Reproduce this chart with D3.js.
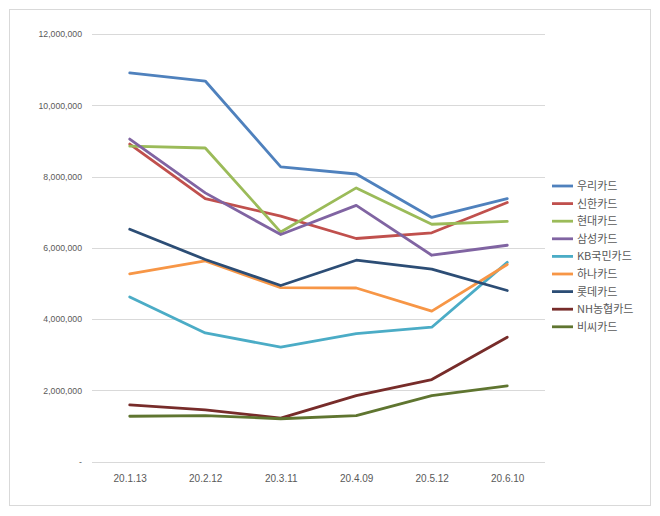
<!DOCTYPE html>
<html>
<head>
<meta charset="utf-8">
<script src="https://cdn.jsdelivr.net/npm/d3@7"></script>
<style>
  html, body { margin: 0; padding: 0; background: #fff; }
  svg { display: block; }
</style>
</head>
<body>
<svg id="chart" width="660" height="516"></svg>
<script>
const categories = ["20.1.13", "20.2.12", "20.3.11", "20.4.09", "20.5.12", "20.6.10"];
const seriesNames = ["우리카드", "신한카드", "현대카드", "삼성카드", "KB국민카드", "하나카드", "롯데카드", "NH농협카드", "비씨카드"];
const woori   = [10910000, 10680000, 8270000, 8070000, 6850000, 7380000];
const shinhan = [8910000, 7380000, 6890000, 6260000, 6420000, 7270000];
const hyundai = [8850000, 8800000, 6440000, 7680000, 6660000, 6740000];
const samsung = [9050000, 7540000, 6370000, 7190000, 5790000, 6070000];
const kb      = [4620000, 3610000, 3210000, 3590000, 3770000, 5590000];
const hana    = [5270000, 5630000, 4880000, 4870000, 4220000, 5530000];
const lotte   = [6520000, 5670000, 4940000, 5650000, 5400000, 4800000];
const nh      = [1590000, 1450000, 1220000, 1850000, 2300000, 3490000];
const bc      = [1270000, 1290000, 1200000, 1290000, 1850000, 2120000];
const yTicks  = [0, 2000000, 4000000, 6000000, 8000000, 10000000, 12000000];
const colors  = ["#4F81BD", "#C0504D", "#9BBB59", "#8064A2", "#4BACC6", "#F79646", "#2C4D75", "#772C2A", "#5F7530"];

const seriesValues = [woori, shinhan, hyundai, samsung, kb, hana, lotte, nh, bc];
const series = seriesNames.map((name, i) => ({ name, values: seriesValues[i], color: colors[i] }));

const svg = d3.select("#chart");

// outer border
svg.append("rect")
  .attr("x", 9.5).attr("y", 9.5)
  .attr("width", 641).attr("height", 496)
  .attr("fill", "#fff").attr("stroke", "#d9d9d9").attr("stroke-width", 1);

const plot = { left: 92, right: 545, top: 34, bottom: 461.5 };

const x = d3.scalePoint().domain(categories).range([plot.left, plot.right]).padding(0.5);
const y = d3.scaleLinear().domain([0, 12000000]).range([plot.bottom, plot.top]);

// gridlines
svg.append("g")
  .selectAll("line").data(yTicks).join("line")
  .attr("x1", plot.left).attr("x2", plot.right)
  .attr("y1", d => Math.round(y(d)) + 0.5).attr("y2", d => Math.round(y(d)) + 0.5)
  .attr("stroke", "#d9d9d9").attr("stroke-width", 1);

// y axis
const fmt = d3.format(",");
const yAxis = d3.axisLeft(y).tickValues(yTicks).tickSize(0).tickPadding(10)
  .tickFormat(d => d === 0 ? "-" : fmt(d));
const yg = svg.append("g").attr("transform", `translate(${plot.left},0)`).call(yAxis);
yg.select(".domain").remove();
yg.selectAll("text")
  .attr("fill", "#595959")
  .style("font-family", "'Liberation Sans', Arial, sans-serif")
  .style("font-size", "8.7px");

// x axis
const xAxis = d3.axisBottom(x).tickSize(0).tickPadding(13);
const xg = svg.append("g").attr("transform", `translate(0,${plot.bottom})`).call(xAxis);
xg.select(".domain").remove();
xg.selectAll("text")
  .attr("fill", "#595959")
  .style("font-family", "'Liberation Sans', Arial, sans-serif")
  .style("font-size", "10px");

// lines
const line = d3.line()
  .x((d, i) => x(categories[i]))
  .y(d => y(d));

svg.append("g")
  .selectAll("path").data(series).join("path")
  .attr("d", d => line(d.values))
  .attr("fill", "none")
  .attr("stroke", d => d.color)
  .attr("stroke-width", 2.8)
  .attr("stroke-linejoin", "round")
  .attr("stroke-linecap", "round");

// legend
const legend = svg.append("g").attr("transform", "translate(552,186)");
const items = legend.selectAll("g").data(series).join("g")
  .attr("transform", (d, i) => `translate(0,${i * 17.6})`);
items.append("line")
  .attr("x1", 0).attr("x2", 21).attr("y1", 0).attr("y2", 0)
  .attr("stroke", d => d.color).attr("stroke-width", 2.8);
items.append("text")
  .attr("x", 25).attr("y", 0).attr("dy", "0.36em")
  .attr("fill", "#595959")
  .style("font-family", "'Noto Sans CJK KR', 'Noto Sans', sans-serif")
  .style("font-size", "11px")
  .text(d => d.name);
</script>
</body>
</html>
